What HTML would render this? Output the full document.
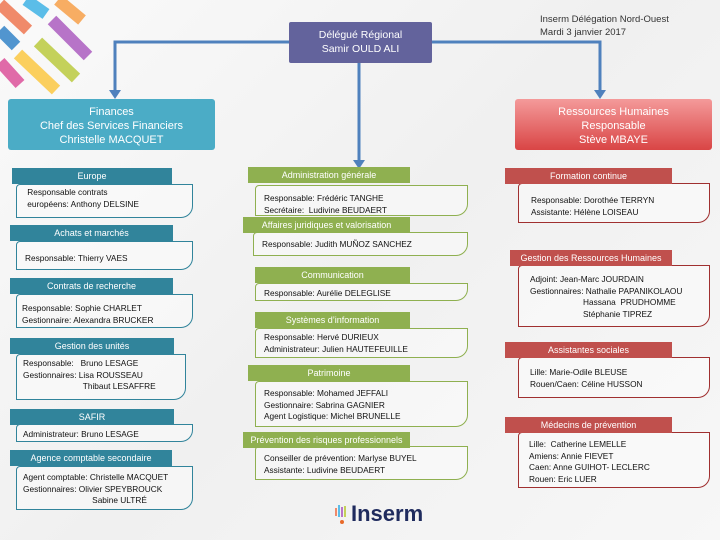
<!DOCTYPE html>
<html><head><meta charset="utf-8"><style>
*{margin:0;padding:0;box-sizing:border-box}
body{width:720px;height:540px;position:relative;overflow:hidden;background:linear-gradient(135deg,#fafafa 0%,#f0f0f0 50%,#f7f7f7 100%);font-family:"Liberation Sans",sans-serif}
.a{position:absolute}
.h{position:absolute;color:#fff;font-size:9px;text-align:center;line-height:16px;height:16px;z-index:2;white-space:nowrap}
.b{position:absolute;border:1px solid;border-radius:4px 0 12px 0;font-size:8.3px;line-height:11.5px;color:#111;padding:2px 0 0 8px;white-space:pre;background:rgba(255,255,255,.4)}
.t{background:#31849b}.tb{border-color:#31849b}
.g{background:#8fb050}.gb{border-color:#8fb050}
.r{background:#c0504d}.rb{border-color:#a03030}
.big{position:absolute;color:#fff;text-align:center;font-size:11px;line-height:14px}
</style></head><body>
<svg class="a" style="left:0;top:0" width="720" height="540">
<g stroke-width="12" stroke-linecap="butt">
<line x1="0" y1="4" x2="28" y2="30" stroke="#f08a6a"/>
<line x1="26" y1="0" x2="46" y2="14" stroke="#5bbde8"/>
<line x1="58" y1="0" x2="82" y2="20" stroke="#f7ad63"/>
<line x1="0" y1="30" x2="16" y2="46" stroke="#5195cf"/>
<line x1="52" y1="20" x2="88" y2="56" stroke="#b774c8"/>
<line x1="38" y1="42" x2="76" y2="78" stroke="#c4d15a"/>
<line x1="18" y1="54" x2="56" y2="90" stroke="#fbcf5e"/>
<line x1="0" y1="62" x2="20" y2="84" stroke="#e06aa8"/>
</g>
<g stroke="#4f81bd" stroke-width="3" fill="none">
<polyline points="289,42 115,42 115,92"/>
<polyline points="432,42 600,42 600,92"/>
<line x1="359" y1="63" x2="359" y2="162"/>
</g>
<g fill="#4f81bd">
<polygon points="109,90 121,90 115,99"/>
<polygon points="594,90 606,90 600,99"/>
<polygon points="353,160 365,160 359,169"/>
</g>
</svg>
<div class="big" style="left:289px;top:22px;width:143px;height:41px;background:#63639c;padding-top:6px;font-size:10.5px;border-radius:2px">Délégué Régional<br>Samir OULD ALI</div>
<div class="a" style="left:540px;top:13px;font-size:9.5px;line-height:13px;color:#333">Inserm Délégation Nord-Ouest<br>Mardi 3 janvier 2017</div>
<div class="big" style="left:8px;top:99px;width:207px;height:51px;background:#4bacc6;padding-top:6px;border-radius:3px">Finances<br>Chef des Services Financiers<br>Christelle MACQUET</div>
<div class="big" style="left:515px;top:99px;width:197px;height:51px;background:linear-gradient(#f49a9a,#d94545);padding-top:6px;border-radius:3px">Ressources Humaines<br>Responsable<br>Stève MBAYE</div>

<div class="h t" style="left:12px;top:168px;width:160px">Europe</div>
<div class="b tb" style="left:16px;top:184px;width:177px;height:34px"> Responsable contrats
 européens: Anthony DELSINE</div>
<div class="h t" style="left:10px;top:225px;width:163px">Achats et marchés</div>
<div class="b tb" style="left:16px;top:241px;width:177px;height:29px;padding-top:11px">Responsable: Thierry VAES</div>
<div class="h t" style="left:10px;top:278px;width:163px">Contrats de recherche</div>
<div class="b tb" style="left:16px;top:294px;width:177px;height:34px;padding-top:8px;padding-left:5px">Responsable: Sophie CHARLET
Gestionnaire: Alexandra BRUCKER</div>
<div class="h t" style="left:10px;top:338px;width:164px">Gestion des unités</div>
<div class="b tb" style="left:16px;top:354px;width:170px;height:46px;padding-left:6px;padding-top:3px">Responsable:   Bruno LESAGE
Gestionnaires: Lisa ROUSSEAU
                          Thibaut LESAFFRE</div>
<div class="h t" style="left:10px;top:409px;width:164px">SAFIR</div>
<div class="b tb" style="left:16px;top:424px;width:177px;height:18px;padding-top:4px;padding-left:6px">Administrateur: Bruno LESAGE</div>
<div class="h t" style="left:10px;top:450px;width:162px">Agence comptable secondaire</div>
<div class="b tb" style="left:16px;top:466px;width:177px;height:44px;padding-left:6px;padding-top:5px">Agent comptable: Christelle MACQUET
Gestionnaires: Olivier SPEYBROUCK
                              Sabine ULTRÉ</div>

<div class="h g" style="left:248px;top:167px;width:162px">Administration générale</div>
<div class="b gb" style="left:255px;top:185px;width:213px;height:31px;padding-top:7px">Responsable: Frédéric TANGHE
Secrétaire:  Ludivine BEUDAERT</div>
<div class="h g" style="left:243px;top:217px;width:167px">Affaires juridiques et valorisation</div>
<div class="b gb" style="left:253px;top:232px;width:215px;height:24px;padding-top:6px">Responsable: Judith MUÑOZ SANCHEZ</div>
<div class="h g" style="left:255px;top:267px;width:155px">Communication</div>
<div class="b gb" style="left:255px;top:283px;width:213px;height:18px;padding-top:4px;padding-left:8px">Responsable: Aurélie DELEGLISE</div>
<div class="h g" style="left:255px;top:312px;width:155px">Systèmes d’information</div>
<div class="b gb" style="left:255px;top:328px;width:213px;height:30px;padding-top:3px">Responsable: Hervé DURIEUX
Administrateur: Julien HAUTEFEUILLE</div>
<div class="h g" style="left:248px;top:365px;width:162px">Patrimoine</div>
<div class="b gb" style="left:255px;top:381px;width:213px;height:46px;padding-top:6px">Responsable: Mohamed JEFFALI
Gestionnaire: Sabrina GAGNIER
Agent Logistique: Michel BRUNELLE</div>
<div class="h g" style="left:243px;top:432px;width:167px">Prévention des risques professionnels</div>
<div class="b gb" style="left:255px;top:446px;width:213px;height:34px;padding-top:6px">Conseiller de prévention: Marlyse BUYEL
Assistante: Ludivine BEUDAERT</div>

<div class="h r" style="left:505px;top:168px;width:167px">Formation continue</div>
<div class="b rb" style="left:518px;top:183px;width:192px;height:40px;padding-top:11px;padding-left:12px">Responsable: Dorothée TERRYN
Assistante: Hélène LOISEAU</div>
<div class="h r" style="left:510px;top:250px;width:162px">Gestion des Ressources Humaines</div>
<div class="b rb" style="left:518px;top:265px;width:192px;height:62px;padding-top:8px;padding-left:11px">Adjoint: Jean-Marc JOURDAIN
Gestionnaires: Nathalie PAPANIKOLAOU
                       Hassana  PRUDHOMME
                       Stéphanie TIPREZ</div>
<div class="h r" style="left:505px;top:342px;width:167px">Assistantes sociales</div>
<div class="b rb" style="left:518px;top:357px;width:192px;height:41px;padding-top:9px;padding-left:11px">Lille: Marie-Odile BLEUSE
Rouen/Caen: Céline HUSSON</div>
<div class="h r" style="left:505px;top:417px;width:167px">Médecins de prévention</div>
<div class="b rb" style="left:518px;top:432px;width:192px;height:56px;padding-top:6px;padding-left:10px">Lille:  Catherine LEMELLE
Amiens: Annie FIEVET
Caen: Anne GUIHOT- LECLERC
Rouen: Eric LUER</div>

<svg class="a" style="left:334px;top:504px" width="16" height="22">
<rect x="1" y="4" width="2" height="8" fill="#f08a6a"/><rect x="4" y="1" width="2" height="12" fill="#5bbde8"/>
<rect x="7" y="3" width="2" height="10" fill="#b774c8"/><rect x="10" y="2" width="2" height="11" fill="#c4d15a"/>
<circle cx="8" cy="18" r="2" fill="#e86a2a"/></svg>
<div class="a" style="left:351px;top:500px;font-size:22px;font-weight:bold;color:#1f2b5e;line-height:28px">Inserm</div>
</body></html>
